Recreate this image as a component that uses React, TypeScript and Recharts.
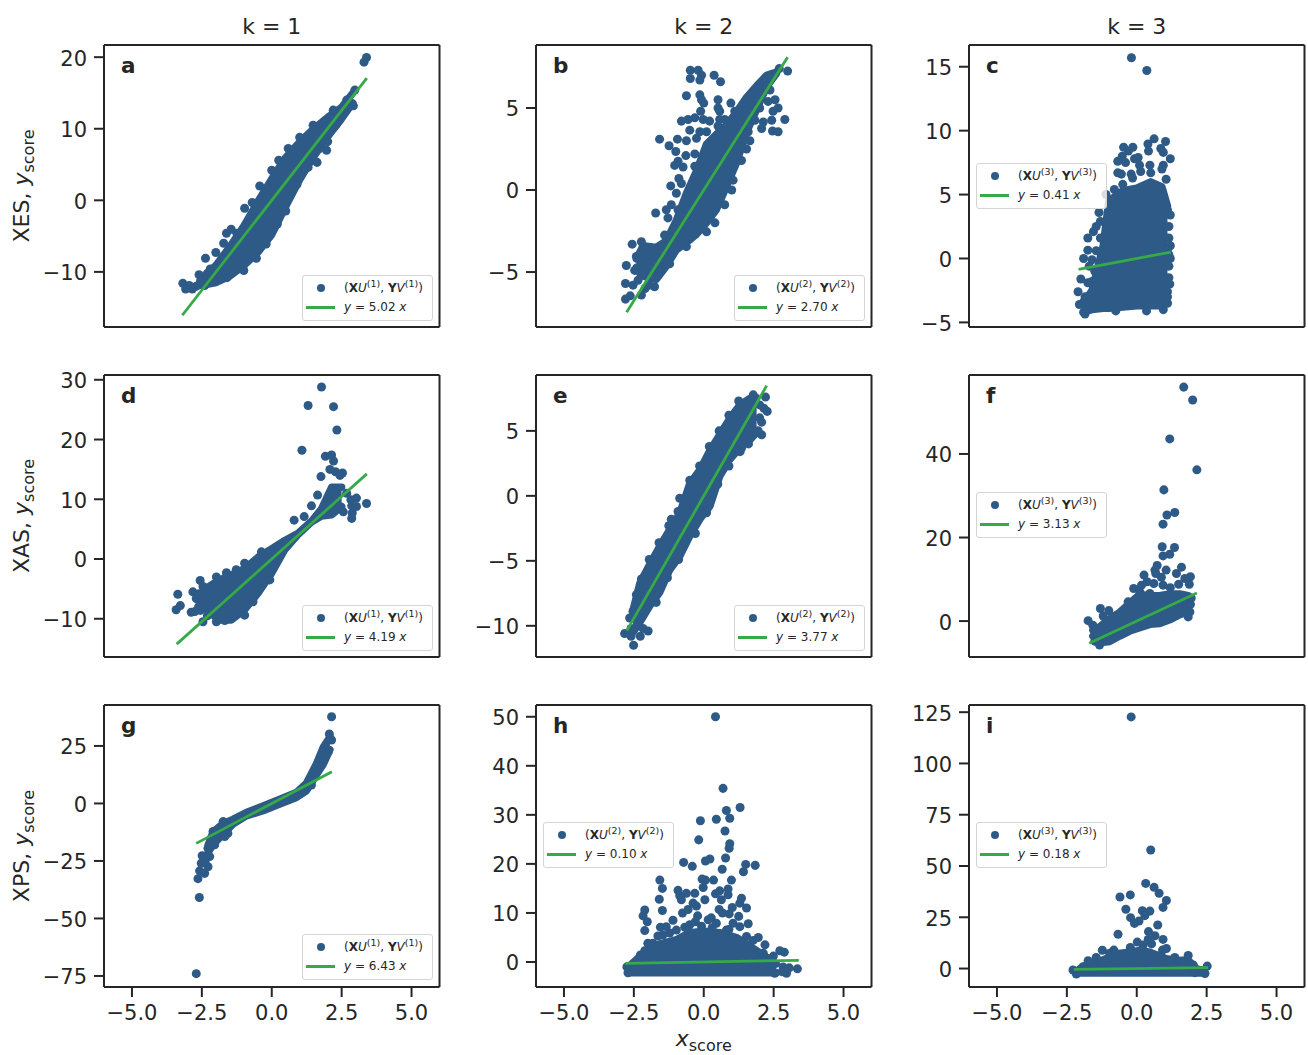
import { Area, ComposedChart, Scatter, XAxis, YAxis } from "recharts";

type Pair = [number, number];
type Row = [number, number, number];

const DOT = "#2e5a87";
const GREEN = "#35aa47";
const INK = "#262626";
const FONT = "'DejaVu Sans', sans-serif";

const xTicks = [-5, -2.5, 0, 2.5, 5];
const colTitles = ["k = 1", "k = 2", "k = 3"];
const rowTitles = ["XES", "XAS", "XPS"];
const letters = ["a", "b", "c", "d", "e", "f", "g", "h", "i"];
const modes = [1, 2, 3, 1, 2, 3, 1, 2, 3];
const slopes = [5.02, 2.7, 0.41, 4.19, 3.77, 3.13, 6.43, 0.1, 0.18];

const yTicksA = [-10, 0, 10, 20];
const yTicksB = [-5, 0, 5];
const yTicksC = [-5, 0, 5, 10, 15];
const yTicksD = [-10, 0, 10, 20, 30];
const yTicksE = [-10, -5, 0, 5];
const yTicksF = [0, 20, 40];
const yTicksG = [-75, -50, -25, 0, 25];
const yTicksH = [0, 10, 20, 30, 40, 50];
const yTicksI = [0, 25, 50, 75, 100, 125];

// the solid core of each cloud: x, lowest y, highest y
const coreA: Row[] = [[-2.5, -11.9, -10.9], [-2, -11.5, -9.1], [-1.5, -10.6, -6.5], [-1, -9.1, -3.6], [-0.5, -7.3, -0.2], [0, -4.8, 3], [0.5, -0.85, 6], [1, 2.9, 8.15], [1.5, 6.1, 10], [2, 8.9, 11.6], [2.5, 11.4, 13], [2.9, 13.6, 15]];
const coreB: Row[] = [[-2.41, -4.7, -4.2], [-2.17, -5.25, -3.4], [-1.7, -5.45, -3.5], [-1.34, -4.65, -3.1], [-0.98, -3.65, -1.85], [-0.62, -3.2, -0.2], [-0.26, -2.7, 1.15], [0.1, -2, 2.8], [0.45, -1.2, 3.4], [0.81, 0.2, 3.95], [1.17, 1.65, 4.75], [1.53, 3.5, 5.65], [1.89, 4.9, 6.35], [2.25, 6.3, 7], [2.6, 7.1, 7.2]];
const coreC: Row[] = [[-1.85, -4.1, -3.3], [-1.6, -4, -2.5], [-1.2, -3.9, 1], [-1, -3.9, 4.5], [-0.5, -3.8, 5.3], [0, -3.7, 5.5], [0.5, -3.7, 6], [0.9, -3.7, 5.6], [1.1, -3.4, 4.1]];
const coreD: Row[] = [[-2.64, -7.9, -6.9], [-2.28, -8.5, -4.7], [-1.92, -10.2, -3.6], [-1.45, -10.2, -2.7], [-0.97, -8.5, -1.6], [-0.49, -5.7, 0.3], [-0.01, -2.4, 1.7], [0.47, 1.6, 3.1], [0.94, 4.1, 4.3], [1.42, 6.2, 6.3], [1.78, 7.2, 8.4], [2.14, 7.4, 12], [2.5, 8.8, 12]];
const coreE: Row[] = [[-2.53, -10.5, -8.8], [-2.29, -9.75, -6.75], [-1.94, -8.5, -5.3], [-1.58, -7.45, -3.9], [-1.22, -5.7, -2.6], [-0.86, -4.65, -1.35], [-0.5, -3.1, 0.95], [-0.14, -1.8, 2], [0.22, -0.8, 3.5], [0.57, 1.5, 4.7], [0.93, 2.8, 5.95], [1.29, 3.7, 7], [1.65, 4.3, 7.5], [1.89, 4.85, 7.55]];
const coreF: Row[] = [[-1.57, -3.6, -2.2], [-1.33, -5.2, -1.4], [-0.97, -4.9, 0.6], [-0.61, -3.6, 2.1], [-0.25, -2.4, 4.3], [0.11, -1.6, 6.4], [0.47, -0.8, 6.1], [0.82, -0.6, 6.1], [1.18, 0.3, 6.5], [1.54, 1.5, 6.5], [1.84, 2.3, 6.1]];
const coreG: Row[] = [[-2.28, -21.4, -18.2], [-2.1, -17.9, -12.4], [-1.74, -13.5, -8.8], [-1.39, -9, -6.9], [-0.91, -5.4, -3.9], [-0.31, -3.2, -1.1], [0.29, -0.3, 1.9], [0.88, 2.6, 4.8], [1.24, 5.5, 8.8], [1.6, 12.5, 17.3], [1.84, 16.9, 24.4], [2.08, 23.4, 28.9]];
const coreH: Row[] = [[-2.7, -2.2, -1], [-2.2, -2.2, 1.6], [-1.7, -2.2, 3.5], [-1, -2.2, 4.5], [-0.5, -2.2, 6], [0, -2.2, 6.3], [0.57, -2.2, 6], [1.17, -2.2, 5], [1.77, -2.2, 2.8], [2.25, -2.2, 1], [2.6, -2.2, -0.4]];
const coreI: Row[] = [[-2.04, -2.2, -0.1], [-1.68, -2.2, 2.7], [-1.2, -2.2, 4.2], [-0.73, -2.2, 7.2], [-0.25, -2.2, 8], [0.11, -2.2, 8.8], [0.47, -2.2, 8], [1.06, -2.2, 4.8], [1.42, -2.2, 4], [1.84, -2.2, 4.2], [2.14, -2.2, -0.1], [2.38, -2.2, -0.9]];

// the separate dots around and above each core
const dotsA: Pair[] = [[3.39, 19.95], [3.3, 19.3], [2.97, 15.4], [2.92, 13.2], [2.68, 14], [1.96, 7], [1.62, 5.3], [2.0, 8.2], [2.3, 10.6], [2.6, 13.3], [1.7, 7.2], [1.3, 4.6], [0.9, 2.2], [0.5, -1.5], [-3.18, -11.6], [-3.08, -12.4], [-2.84, -12.4], [-2.6, -10.4], [-2.37, -8.1], [-2, -7.3], [-1.72, -6], [-1.62, -4.6], [-1.45, -4.05], [-0.97, -1.1], [-0.43, 2], [0.59, 7.25], [1.48, 10.5], [1.0, 8.8], [2.2, 12.6], [-2.2, -9.6], [-1.8, -8.5], [-1.25, -4.6], [-0.7, -0.3], [0, 4.2], [0.25, 5.6], [-2.4, -11.9], [-1.6, -10.8], [-1.0, -9.8], [-0.55, -8.1], [-0.2, -6.1], [0.2, -3.3], [-2.7, -12], [-2.55, -11.3], [-2.95, -11.9], [-2.3, -10.2]];
const dotsB: Pair[] = [[-0.48, 7.3], [-0.2, 7.3], [-0.08, 7], [-0.48, 6.8], [-0.14, 6.7], [0.37, 7], [0.6, 6.6], [-0.62, 5.75], [-0.14, 5.8], [-0.08, 5.5], [0, 5.3], [0.51, 5.5], [0.97, 5.3], [0.51, 5], [-0.11, 4.8], [0.57, 4.8], [1.11, 4.8], [-0.8, 4.2], [-0.56, 4.3], [-0.32, 4.4], [-0.02, 4.3], [0.21, 4.2], [0.57, 4.3], [0.75, 4.3], [-0.5, 3.65], [-0.14, 3.55], [0.1, 3.55], [0.51, 3.9], [-1.58, 3.1], [-0.94, 3.1], [-0.62, 3], [-0.26, 3.15], [-1.24, 2.7], [-1, 2.35], [-0.64, 2.1], [-0.32, 2.2], [-0.92, 1.75], [-1.04, 1.5], [-0.74, 1.4], [-0.32, 1.45], [-0.89, 0.7], [-1.18, 0.25], [-0.8, 0.4], [-0.98, -0.2], [-1.16, -0.9], [-1.72, -1.4], [-1.34, -1.2], [-1.28, -1.7], [-0.92, -1.2], [-1.4, -2.75], [-2.23, -3.15], [-2.56, -3.3], [-2.41, -4.05], [-2.23, -3.85], [-2.77, -4.6], [-2.47, -4.9], [-2.29, -5], [-2.8, -5.7], [-2.53, -5.8], [-2.35, -5.5], [-2.8, -6.65], [-2.63, -6.45], [-2.23, -6.4], [-1.94, -5.8], [-2.1, -6], [3, 7.25], [2.9, 4.3], [2.66, 3.55], [2.46, 3.6], [2.07, 3.75], [2.13, 4.15], [2.43, 4.25], [2.48, 4.8], [2.66, 5], [2.3, 5.4], [2.55, 5.5], [2.37, 6.1], [2, 5], [1.83, 4.25], [1.59, 3.55], [1.65, 3], [1.53, 2.5], [1.35, 1.8], [1.05, 0.6], [1, 0], [0.75, -0.9], [0.4, -2], [0.1, -2.55], [-0.62, -3.45], [-1.22, -4.5], [-1.76, -5.9], [2.7, 7.4]];
const dotsC: Pair[] = [[-0.19, 15.7], [0.36, 14.7], [0.62, 9.36], [1.03, 9.15], [0.4, 8.96], [-0.47, 8.7], [-0.14, 8.7], [-0.3, 8.4], [0.42, 8.4], [0.86, 8.6], [0.95, 8.3], [1.2, 7.8], [-0.52, 8], [-0.68, 7.6], [-0.4, 7.5], [-0.08, 7.8], [0.05, 7.9], [0.47, 7.3], [0.1, 7.3], [0.95, 7.3], [0.9, 7], [-0.68, 6.7], [-0.55, 6.6], [-0.2, 6.6], [0.14, 6.8], [0.5, 6.7], [1.05, 6.2], [-0.15, 6.3], [-0.5, 5.8], [-0.8, 5.4], [-1.1, 5], [0.95, 4.2], [1.1, 3.8], [1.2, 3.4], [-1.35, 3.6], [-1, 3.5], [-1.3, 2.9], [-1.55, 2.1], [-1.75, 1.6], [-1.3, 1.6], [-1.45, 2.5], [-1.75, 0.65], [-1.45, 0.6], [-1.9, 0], [-1.6, -0.1], [-1.7, -0.6], [-2, -1.6], [-1.6, -1.8], [-2.1, -2.6], [-1.85, -3], [-2.05, -3.6], [-1.9, -4.2], [-1.85, -4.35], [1.1, -2.6], [1.15, -0.6], [1.15, 1.6], [1.1, 0.7], [1.2, 0], [0.95, -4], [1.1, -3], [-0.75, -4.1], [0.35, -4.1], [-1.5, -1], [-1.3, -2.2], [-1.75, -1.9], [-1.85, -3.6], [-1.7, -3.2], [-1.5, -3.3], [-1.9, -3.4], [-1.7, -4], [1.15, -1.5], [1.18, -2], [1.15, 0.3], [1.2, 1], [1.15, 2.5], [1.1, -3.5]];
const dotsD: Pair[] = [[1.78, 28.8], [1.3, 25.7], [2.21, 25.5], [2.33, 21.6], [1.08, 18.2], [1.92, 17.2], [2.14, 17.4], [2.21, 16.4], [2.08, 15], [2.28, 14.6], [2.53, 14.4], [2.44, 14], [1.76, 13.8], [1.64, 10.7], [1.42, 8.9], [1.16, 7.1], [0.8, 6.5], [3.03, 10.2], [2.83, 9.9], [3.39, 9.3], [3.03, 8.8], [2.86, 8.9], [2.88, 7.7], [2.86, 6.8], [2.56, 7.9], [2.68, 11], [-0.97, -0.7], [-0.37, 1.2], [-3.36, -5.9], [-3.27, -7.8], [-3.42, -8.5], [-2.82, -5.5], [-2.56, -3.6], [-2.88, -8.9], [-2.75, -8.8], [-2.46, -4.6], [-2.7, -6.6], [-1.98, -10.5], [-2.46, -10.5], [-1.27, -1.8], [-1.98, -3], [-1.62, -2.3], [-0.67, -7.15], [-0.97, -9.4], [-1.68, -10.3], [-0.07, -3.5], [-2.3, -9.5], [-2.55, -8.6], [-2.4, -7.8], [-2.6, -5.8]];
const dotsE: Pair[] = [[2.21, 7.6], [2.15, 6.74], [2.27, 6.5], [2.07, 5.67], [2.07, 4.7], [1.77, 7.77], [1.6, 4], [1.35, 3.67], [-0.86, -0.18], [-1.16, -1.8], [-0.92, -1.2], [-2.23, -6.4], [-1.96, -5.7], [-2.41, -7.6], [-2.53, -8.9], [-2.65, -9.4], [-2.83, -10.6], [-2.6, -10.8], [-2.51, -11.5], [-2.27, -10.8], [-1.99, -10.4], [-2.17, -10.2], [-2.6, -10.2], [2.0, 7], [2.0, 6], [1.95, 5], [-1.95, -4.9], [-1.6, -3.6], [-1.25, -2.3], [-0.5, 1.2], [-0.15, 2.3], [0.2, 3.8], [0.55, 5], [0.9, 6.2], [1.25, 7.3], [-0.3, -2.9], [0.1, -1.3], [0.5, 0.9], [0.9, 2.3], [1.3, 3.4], [-0.9, -4.9], [-1.3, -6.3], [-1.7, -8.2]];
const dotsF: Pair[] = [[1.68, 56], [2, 52.9], [1.18, 43.6], [2.15, 36.2], [0.97, 31.4], [1.36, 26], [1.08, 25.4], [0.94, 23.2], [0.91, 17.8], [1.35, 17.6], [0.94, 15.6], [1.18, 16], [0.73, 13.3], [0.65, 12.2], [0.68, 11.4], [1.05, 12.2], [1.6, 12.9], [1.42, 11.4], [1.92, 10.6], [1.72, 10.2], [1.88, 8.8], [0.26, 11], [0.88, 10.5], [0.37, 9.4], [0.17, 8.6], [0.61, 9], [0.94, 8.6], [-0.11, 7.8], [0.11, 7], [0.47, 6.6], [-0.31, 4.6], [-1.3, 3], [-1, 2.5], [-1.2, 1.2], [-1.74, 0.1], [-1.57, -1], [-1.33, -5.75], [-1.5, -4.8], [1.9, 2.2], [1.84, 1], [1.92, 4], [1.95, 5.5], [1.5, 8.8], [1.2, 8]];
const dotsG: Pair[] = [[-2.7, -74], [2.14, 37.7], [2.06, 30.2], [2.14, 27.6], [2.02, 22.5], [1.42, 8], [-2.59, -40.9], [-2.64, -32.7], [-2.58, -29.3], [-2.4, -30.4], [-2.52, -26], [-2.28, -27.5], [-2.49, -22.7], [-2.22, -23.1], [-2.28, -19.5], [-2.04, -18], [-1.68, -14.4], [-1.57, -13], [-2.1, -12.2], [-1.74, -7.9], [-2.38, -25], [-2.15, -15]];
const dotsH: Pair[] = [[0.42, 50], [0.69, 35.4], [1.3, 31.5], [0.81, 30.9], [0.45, 29.1], [0.93, 29.3], [-0.12, 28.8], [0.76, 26.7], [-0.18, 24.9], [0.93, 24.1], [0.91, 23.2], [0.78, 21.2], [0.22, 21], [0.06, 20.6], [-0.72, 20.3], [-0.41, 19.5], [1.5, 19.9], [1.84, 19.7], [1.42, 18.4], [0.66, 18.9], [-0.06, 16.9], [0.06, 16.7], [0.35, 16.7], [0.99, 16.7], [-1.57, 16.7], [-1.48, 15], [-0.02, 15.2], [-0.92, 14.6], [-0.62, 14], [-0.32, 14], [0.57, 14.5], [0.87, 14.9], [0.42, 13.9], [0.87, 13.7], [-0.86, 13.5], [-1.59, 12.8], [-0.8, 12.7], [0.04, 12.7], [-0.38, 12], [1.35, 13], [1.29, 12], [0.63, 12.7], [-0.26, 11.4], [1.02, 11.1], [1.53, 11], [-2.11, 10.6], [-1.48, 10.5], [-0.56, 10.7], [-0.76, 10], [0.55, 10.7], [-2.17, 9.4], [0.67, 10], [0.91, 9.8], [-0.22, 9.4], [-2.02, 8.2], [-1.1, 8.5], [0.27, 9], [1.25, 9.3], [1.59, 7.8], [-2.11, 6.4], [-1.55, 7.1], [-1.34, 7.2], [-0.68, 7.1], [-0.08, 7.3], [1.05, 7.9], [-1.64, 5.3], [1.95, 5], [2.19, 3.5], [2.72, 2.3], [2.88, 2], [-2.27, 1.4], [-2, 3.8], [-1.82, 3.8], [2.49, 1.2], [2.13, 1.8], [3.35, -1.4], [3.06, -1.2], [2.84, -1], [2.96, -2.3], [2.81, -2], [2.54, -2.3], [-2.71, -2.2], [-2.75, -1], [-1.22, 5.9], [-0.98, 6.5], [-0.5, 7.6], [0.16, 8.6], [0.45, 7.9], [0.81, 6.5], [1.29, 7.2], [1.53, 5.2], [1.77, 4.4], [-2.11, 2.3], [-1.46, 5.5], [-0.3, 8.2], [-0.55, 6.4], [0.3, 7], [0.9, 6.6]];
const dotsI: Pair[] = [[-0.2, 122.7], [0.5, 57.8], [0.32, 41.5], [0.62, 39.6], [0.8, 36.7], [1.06, 33.2], [-0.23, 35.9], [-0.6, 34.9], [0.94, 29.8], [0.2, 28.2], [0.47, 28], [-0.39, 28.9], [0.29, 25.8], [-0.22, 24.8], [0.08, 23.2], [-0.08, 22], [0.75, 21.2], [0.42, 18], [-0.67, 16.7], [0.65, 16], [0.41, 14.2], [0.94, 14.2], [0.02, 12.9], [0.53, 12], [-0.23, 10.3], [1.06, 9.8], [0.92, 9], [-1.23, 8.9], [-0.82, 9], [1.84, 6.4], [1.36, 5.4], [-1.74, 3.8], [-1.92, 0.9], [-2.28, -0.7], [-2.16, -2.7], [2.52, 1.2], [2.44, -2.4], [2.08, -2], [2.02, 1.7], [-0.97, 7.4], [-1.45, 5.4], [0.23, 11.5]];

const lineA: Pair[] = [[-3.2, -16.06], [3.4, 17.07]];
const lineB: Pair[] = [[-2.76, -7.45], [3, 8.1]];
const lineC: Pair[] = [[-2.08, -0.85], [1.22, 0.5]];
const lineD: Pair[] = [[-3.4, -14.25], [3.4, 14.25]];
const lineE: Pair[] = [[-2.75, -10.37], [2.25, 8.48]];
const lineF: Pair[] = [[-1.7, -5.32], [2.15, 6.73]];
const lineG: Pair[] = [[-2.7, -17.36], [2.15, 13.82]];
const lineH: Pair[] = [[-2.8, -0.28], [3.4, 0.34]];
const lineI: Pair[] = [[-2.25, -0.4], [2.55, 0.46]];

const cores = [coreA, coreB, coreC, coreD, coreE, coreF, coreG, coreH, coreI];
const dots = [dotsA, dotsB, dotsC, dotsD, dotsE, dotsF, dotsG, dotsH, dotsI];
const lines = [lineA, lineB, lineC, lineD, lineE, lineF, lineG, lineH, lineI];
const yTicks = [yTicksA, yTicksB, yTicksC, yTicksD, yTicksE, yTicksF, yTicksG, yTicksH, yTicksI];
const yDomains: Pair[] = [[-17.7, 21.7], [-8.35, 8.84], [-5.36, 16.7], [-16.4, 30.8], [-12.4, 9.3], [-8.6, 58.9], [-79.8, 42.8], [-5.1, 52.4], [-9, 128.5]];

// layout
const colLeft = [104, 536, 969];
const rowTop = [45, 375, 705];
const plotW = 335.5;
const plotH = 282;
const gutterL = 95;
const gutterR = 14;
const gutterT = 16;
const legendBox: Pair[] = [[302, 275], [734, 275], [976, 163], [302, 605], [734, 605], [976, 492], [302, 934], [543, 822], [976, 822]];

const minus = (s: string) => s.replace("-", "\u2212");
const tickStyle = { fill: INK, fontSize: 21, fontFamily: FONT };
const axisStyle = { stroke: INK, strokeWidth: 2 };
const noMark = () => <g />;

function Panel({ i }: { i: number }) {
  const col = i % 3;
  const row = Math.floor(i / 3);
  const bottom = row === 2 ? 45 : gutterT;
  const band = cores[i].map(([x, lo, hi]) => ({ x, band: [lo, hi] }));
  const pts = dots[i].map(([x, y]) => ({ x, y }));
  const fit = lines[i].map(([x, y]) => ({ x, y }));
  const xDom: Pair = [-6, 6];
  return (
    <div style={{ position: "absolute", left: colLeft[col] - gutterL, top: rowTop[row] - gutterT }}>
      <ComposedChart
        width={gutterL + plotW + gutterR}
        height={gutterT + plotH + bottom}
        data={band}
        margin={{ top: 0, right: 0, bottom: 0, left: 0 }}
      >
        <XAxis
          dataKey="x"
          type="number"
          domain={xDom}
          ticks={xTicks}
          interval={0}
          allowDataOverflow
          height={bottom}
          tickSize={10}
          tickMargin={8}
          axisLine={axisStyle}
          tickLine={axisStyle}
          tick={row === 2 ? tickStyle : false}
          tickFormatter={(v: number) => minus(v.toFixed(1))}
        />
        <XAxis
          xAxisId="top"
          orientation="top"
          type="number"
          domain={xDom}
          ticks={xTicks}
          interval={0}
          allowDataOverflow
          height={gutterT}
          tickSize={10}
          axisLine={axisStyle}
          tickLine={axisStyle}
          tick={false}
        />
        <YAxis
          dataKey="y"
          type="number"
          domain={yDomains[i]}
          ticks={yTicks[i]}
          interval={0}
          allowDataOverflow
          width={gutterL}
          tickSize={10}
          tickMargin={7}
          axisLine={axisStyle}
          tickLine={axisStyle}
          tick={{ ...tickStyle, dy: 1 }}
          tickFormatter={(v: number) => minus(String(v))}
        />
        <YAxis
          yAxisId="right"
          orientation="right"
          type="number"
          domain={yDomains[i]}
          ticks={yTicks[i]}
          interval={0}
          allowDataOverflow
          width={gutterR}
          tickSize={10}
          axisLine={axisStyle}
          tickLine={axisStyle}
          tick={false}
        />
        <Area
          dataKey="band"
          type="linear"
          fill={DOT}
          fillOpacity={1}
          stroke={DOT}
          strokeWidth={7.4}
          strokeLinejoin="round"
          strokeLinecap="round"
          dot={false}
          activeDot={false}
          isAnimationActive={false}
        />
        <Scatter data={pts} fill={DOT} shape="circle" isAnimationActive={false} />
        {/* fit line as a Scatter so that it stays on top of the dots */}
        <Scatter
          data={fit}
          line={{ stroke: GREEN, strokeWidth: 2.8 }}
          lineType="joint"
          shape={noMark}
          isAnimationActive={false}
        />
      </ComposedChart>
    </div>
  );
}

function LegendCard({ i }: { i: number }) {
  const [left, top] = legendBox[i];
  const k = modes[i];
  const sup = { fontSize: 9.5, lineHeight: 0 };
  return (
    <div
      style={{
        position: "absolute",
        left,
        top,
        width: 131,
        height: 46,
        boxSizing: "border-box",
        border: "1.5px solid #d5d5d5",
        borderRadius: 3,
        background: "rgba(255,255,255,0.8)",
        fontFamily: FONT,
        fontSize: 12,
        color: INK,
      }}
    >
      <span style={{ position: "absolute", left: 14, top: 8, width: 8, height: 8, borderRadius: 4, background: DOT }} />
      <span style={{ position: "absolute", left: 3, top: 30, width: 29, height: 2.6, background: GREEN }} />
      <span style={{ position: "absolute", left: 41, top: 4, whiteSpace: "nowrap", lineHeight: "16px" }}>
        (<b>X</b><i>U</i><sup style={sup}>({k})</sup>, <b>Y</b><i>V</i><sup style={sup}>({k})</sup>)
      </span>
      <span style={{ position: "absolute", left: 41, top: 23, whiteSpace: "nowrap", lineHeight: "16px" }}>
        <i>y</i> = {slopes[i].toFixed(2)} <i>x</i>
      </span>
    </div>
  );
}

export default function App() {
  return (
    <div style={{ position: "absolute", left: 0, top: 0, width: 1308, height: 1055, overflow: "hidden", background: "#fff", fontFamily: FONT, color: INK }}>
      {letters.map((_, i) => <Panel key={i} i={i} />)}
      {letters.map((_, i) => <LegendCard key={i} i={i} />)}
      {letters.map((l, i) => (
        <div
          key={l}
          style={{
            position: "absolute",
            left: colLeft[i % 3] + 17,
            top: rowTop[Math.floor(i / 3)] + 8,
            fontSize: 21.5,
            fontWeight: 700,
            lineHeight: "26px",
          }}
        >
          {l}
        </div>
      ))}
      {colTitles.map((t, c) => (
        <div key={t} style={{ position: "absolute", left: colLeft[c], width: plotW, top: 13, textAlign: "center", fontSize: 22, lineHeight: "28px" }}>
          {t}
        </div>
      ))}
      {rowTitles.map((t, r) => (
        <div
          key={t}
          style={{
            position: "absolute",
            left: 22,
            top: rowTop[r] + plotH / 2,
            transform: "translate(-50%, -50%) rotate(-90deg)",
            whiteSpace: "nowrap",
            fontSize: 22,
            lineHeight: "28px",
          }}
        >
          {t}, <i>y</i><sub style={{ fontSize: 16, lineHeight: 0 }}>score</sub>
        </div>
      ))}
      <div style={{ position: "absolute", left: colLeft[1], width: plotW, top: 1025, textAlign: "center", fontSize: 22, lineHeight: "28px" }}>
        <i>x</i><sub style={{ fontSize: 16, lineHeight: 0 }}>score</sub>
      </div>
    </div>
  );
}
